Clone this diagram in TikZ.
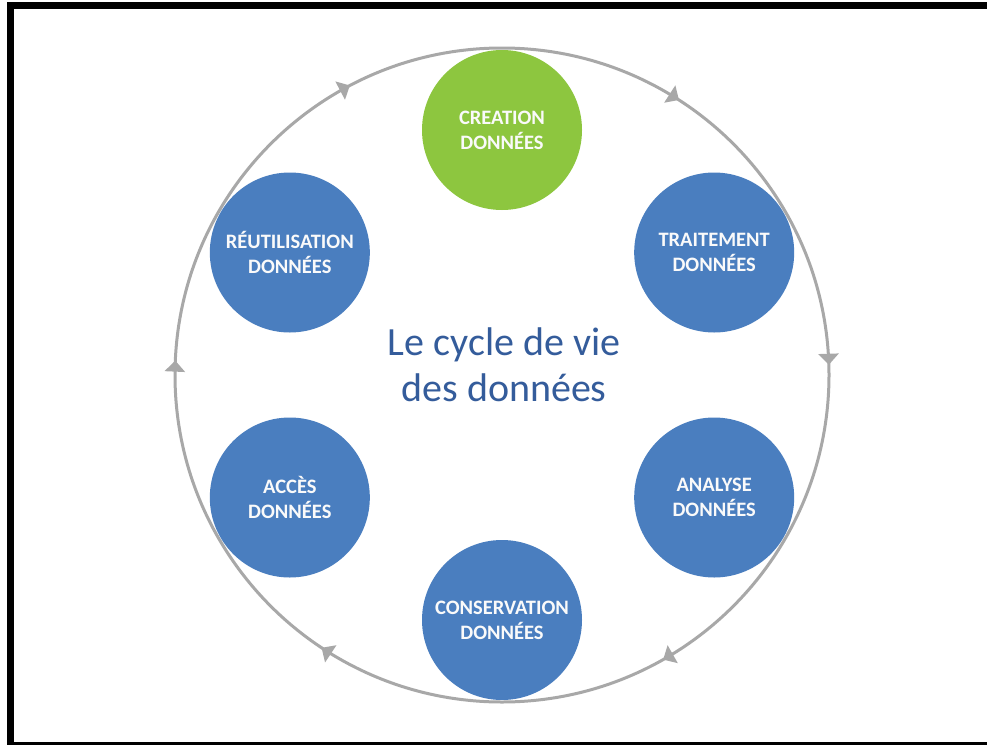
\documentclass[tikz,border=0pt]{standalone}
\usepackage{fontspec}
\setmainfont{Carlito}
\usetikzlibrary{arrows.meta,decorations.markings,calc}
\definecolor{ringgray}{RGB}{168,168,168}
\definecolor{nodeblue}{RGB}{74,126,191}
\definecolor{nodegreen}{RGB}{141,198,63}
\definecolor{titleblue}{RGB}{52,92,155}
\tikzset{
  stage/.style={circle, fill=nodeblue, draw=none, minimum size=160pt, inner sep=0pt,
    text=white!96!gray, align=center, font=\fontsize{20.5}{25}\selectfont\bfseries},
  ring/.style={draw=ringgray, line width=3pt},
  ringarrow/.style={postaction={decorate}, decoration={markings,
    mark=at position 0.091 with {\arrow{Triangle[length=11pt,width=20pt]}},
    mark=at position 0.245 with {\arrow{Triangle[length=11pt,width=20pt]}},
    mark=at position 0.418 with {\arrow{Triangle[length=11pt,width=20pt]}},
    mark=at position 0.593 with {\arrow{Triangle[length=11pt,width=20pt]}},
    mark=at position 0.757 with {\arrow{Triangle[length=11pt,width=20pt]}},
    mark=at position 0.923 with {\arrow{Triangle[length=11pt,width=20pt]}}}},
}
\begin{document}
\begin{tikzpicture}[x=1pt,y=1pt]
\useasboundingbox (0,0) rectangle (987,-744);
\fill[white] (0,0) rectangle (987,-744);
\draw[line width=7pt] (10,-5.5) rectangle (992,-745.5);
\coordinate (C) at (502,-375);
\coordinate (top) at (502,-48);
\draw[ring, ringarrow] (top) arc[start angle=90, end angle=-270, radius=327pt];
\node[stage, fill=nodegreen] (creation) at ($(C)+(90:245)$) {CREATION\\DONNÉES};
\node[stage] (traitement) at ($(C)+(30:245)$) {TRAITEMENT\\DONNÉES};
\node[stage] (analyse) at ($(C)+(-30:245)$) {ANALYSE\\DONNÉES};
\node[stage] (conservation) at ($(C)+(-90:245)$) {CONSERVATION\\DONNÉES};
\node[stage] (acces) at ($(C)+(-150:245)$) {ACCÈS\\DONNÉES};
\node[stage] (reutilisation) at ($(C)+(150:245)$) {RÉUTILISATION\\DONNÉES};
\node[text=titleblue, align=center, font=\fontsize{40}{46}\selectfont] (title) at ($(C)+(2,10)$) {Le cycle de vie\\des données};
\end{tikzpicture}
\end{document}
